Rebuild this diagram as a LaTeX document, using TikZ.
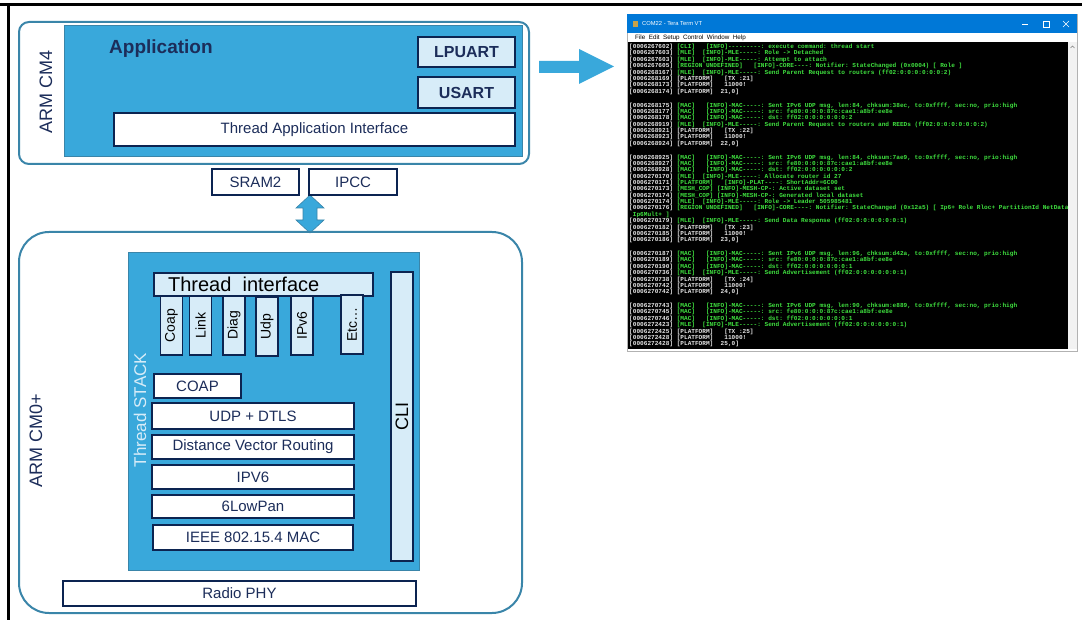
\documentclass[tikz,border=0pt]{standalone}
\usepackage{fontspec}
\setmainfont{Liberation Sans}
\setmonofont{Liberation Mono}
\definecolor{stblue}{HTML}{39A8DB}
\definecolor{stlight}{HTML}{D7ECF8}
\definecolor{stnavy}{HTML}{0C2451}
\definecolor{stteal}{HTML}{3A85A9}
\definecolor{stink}{HTML}{1C2D5A}
\definecolor{termbar}{HTML}{0078D7}
\definecolor{termgreen}{HTML}{3FE03F}
\definecolor{termwhite}{HTML}{E4E4E4}
\definecolor{termicon}{HTML}{C9A24A}
\newcommand\tw[1]{\textcolor{termwhite}{#1}}
\newcommand\tg[1]{\textcolor{termgreen}{#1}}
\begin{document}
\begin{tikzpicture}[
  x=1pt, y=-1pt,
  every node/.style={inner sep=0pt, text=stink, font=\fontsize{15}{18}\selectfont},
  corebox/.style={draw=stteal, line width=2pt, rounded corners=#1},
  bluearea/.style={draw=stteal, line width=1pt, fill=stblue},
  whitebox/.style={draw=stnavy, line width=2.2pt, fill=white},
  lightbox/.style={draw=stnavy, line width=2.2pt, fill=stlight},
  layer/.style={whitebox, minimum width=202, minimum height=24},
  apibox/.style={draw=stnavy, line width=1.5pt, fill=stlight, rotate=90, minimum width=59, minimum height=22, text=black, font=\fontsize{14}{16}\selectfont},
  sidelabel/.style={rotate=90, font=\fontsize{18}{20}\selectfont},
  blockarrow/.style={fill=stblue, draw=stteal, line width=0.6pt},
  term/.style={align=left, anchor=north west, font=\fontsize{6.1}{6.37}\selectfont\ttfamily\bfseries}
]
  \useasboundingbox (0,0) rectangle (1082,620);
  \draw[line width=3] (0,5) -- (1082,5);
  \draw[line width=3] (8,5) -- (8,620);

  \node[corebox=10, minimum width=510, minimum height=142] (cm4) at (274,93) {};
  \node[sidelabel] (cm4lbl) at (46,92) {ARM CM4};
  \node[bluearea, minimum width=458, minimum height=131] (app) at (293,91.5) {};
  \node[anchor=west, font=\fontsize{19}{22}\selectfont\bfseries] (applbl) at (109,49) {Application};
  \node[lightbox, minimum width=97, minimum height=30, font=\fontsize{16}{18}\selectfont\bfseries] (lpuart) at (466.5,52) {LPUART};
  \node[lightbox, minimum width=97, minimum height=31, font=\fontsize{16}{18}\selectfont\bfseries] (usart) at (466.5,92.5) {USART};
  \node[whitebox, minimum width=401, minimum height=33] (tai) at (314.5,129.5) {Thread Application Interface};

  \draw[blockarrow] (310,195) -- (324,208) -- (317,208) -- (317,220) -- (324,220) -- (310,233)
    -- (296,220) -- (303,220) -- (303,208) -- (296,208) -- cycle;
  \node[whitebox, minimum width=87, minimum height=26] (sram) at (255.5,182) {SRAM2};
  \node[whitebox, minimum width=88, minimum height=26] (ipcc) at (353,182) {IPCC};

  \node[corebox=30, minimum width=503, minimum height=381] (cm0) at (270.5,422.5) {};
  \node[sidelabel] (cm0lbl) at (36,441) {ARM CM0+};
  \node[bluearea, minimum width=291, minimum height=317] (stack) at (273.5,411.5) {};
  \node[sidelabel, text=stlight, font=\fontsize{17}{20}\selectfont] (stacklbl) at (140,410) {Thread STACK};
  \node[lightbox, minimum width=219, minimum height=23] (tif) at (263.5,284.5) {};
  \node[anchor=west, text=black, font=\fontsize{20}{22}\selectfont] (tiflbl) at ([xshift=15]tif.west) {Thread\ \ interface};
  \node[apibox] (coap) at (171.5,325.5) {Coap};
  \node[apibox] (link) at (200.5,325.5) {Link};
  \node[apibox] (diag) at (234,325.5) {Diag};
  \node[apibox] (udp) at (267,326.5) {Udp};
  \node[apibox] (ipv) at (302,325.5) {IPv6};
  \node[apibox] (etc) at (352,324.5) {Etc\dots};
  \node[apibox, minimum width=289, font=\fontsize{18}{20}\selectfont] (cli) at (402,416.5) {CLI};
  \node[whitebox, minimum width=87, minimum height=24] (coapl) at (197.5,386) {COAP};
  \node[layer, minimum height=26] (udpl) at (253,416) {UDP + DTLS};
  \node[layer] (dvr) at (253,447) {Distance Vector Routing};
  \node[layer] (ipvl) at (253,477) {IPV6};
  \node[layer, minimum height=23] (lowpan) at (253,506.5) {6LowPan};
  \node[layer, minimum width=200, minimum height=25] (mac) at (253,537.5) {IEEE 802.15.4 MAC};
  \node[whitebox, minimum width=353, minimum height=25] (phy) at (239.5,593.5) {Radio PHY};

  \draw[blockarrow, draw=none] (539,61) -- (579,61) -- (579,49) -- (614,66.5) -- (579,84) -- (579,73) -- (539,73) -- cycle;

  \draw[gray!60, fill=white] (627,14) rectangle (1077,351);
  \fill[termbar] (627,14) rectangle (1077,33);
  \fill[termicon] (633,21) rectangle (638,27);
  \node[anchor=west, text=white, font=\fontsize{5.8}{7}\selectfont] (termtitle) at (642,24) {COM22 - Tera Term VT};
  \draw[white, line width=0.6] (1022,24) -- (1028,24);
  \draw[white, line width=0.6] (1043,21) rectangle (1049,27);
  \draw[white, line width=0.6] (1063,21) -- (1069,27) (1063,27) -- (1069,21);
  \node[anchor=west, text=black, font=\fontsize{6.3}{7}\selectfont] (menu) at (635,38) {File\ \ Edit\ \ Setup\ \ Control\ \ Window\ \ Help};
  \fill[black] (628,42) rectangle (1068,349);
  \fill[gray!10] (1068,42) rectangle (1077,349);
  \draw[gray, line width=0.5] (1070.5,48) -- (1072.5,46) -- (1074.5,48);
  \begin{scope}
    \clip (628,42) rectangle (1068,349);
    \node[term] (log) at (629,44) {%
\tw{[0006267602]} \tg{[CLI] \ \ [INFO]---------: execute command: thread start}\\
\tw{[0006267603]} \tg{[MLE] \ [INFO]-MLE-----: Role -> Detached}\\
\tw{[0006267603]} \tg{[MLE] \ [INFO]-MLE-----: Attempt to attach}\\
\tw{[0006267605]} \tg{[REGION UNDEFINED] \ \ [INFO]-CORE----: Notifier: StateChanged (0x0004) [ Role ]}\\
\tw{[0006268167]} \tg{[MLE] \ [INFO]-MLE-----: Send Parent Request to routers (ff02:0:0:0:0:0:0:2)}\\
\tw{[0006268169] [PLATFORM] \ \ [TX :21]}\\
\tw{[0006268173] [PLATFORM] \ \ 11000!}\\
\tw{[0006268174] [PLATFORM] \ 21,0]}\\
\strut\\
\tw{[0006268175]} \tg{[MAC] \ \ [INFO]-MAC-----: Sent IPv6 UDP msg, len:84, chksum:38ec, to:0xffff, sec:no, prio:high}\\
\tw{[0006268177]} \tg{[MAC] \ \ [INFO]-MAC-----: src: fe80:0:0:0:87c:cae1:a8bf:ee8e}\\
\tw{[0006268178]} \tg{[MAC] \ \ [INFO]-MAC-----: dst: ff02:0:0:0:0:0:0:2}\\
\tw{[0006268919]} \tg{[MLE] \ [INFO]-MLE-----: Send Parent Request to routers and REEDs (ff02:0:0:0:0:0:0:2)}\\
\tw{[0006268921] [PLATFORM] \ \ [TX :22]}\\
\tw{[0006268923] [PLATFORM] \ \ 11000!}\\
\tw{[0006268924] [PLATFORM] \ 22,0]}\\
\strut\\
\tw{[0006268925]} \tg{[MAC] \ \ [INFO]-MAC-----: Sent IPv6 UDP msg, len:84, chksum:7ae9, to:0xffff, sec:no, prio:high}\\
\tw{[0006268927]} \tg{[MAC] \ \ [INFO]-MAC-----: src: fe80:0:0:0:87c:cae1:a8bf:ee8e}\\
\tw{[0006268928]} \tg{[MAC] \ \ [INFO]-MAC-----: dst: ff02:0:0:0:0:0:0:2}\\
\tw{[0006270170]} \tg{[MLE] \ [INFO]-MLE-----: Allocate router id 27}\\
\tw{[0006270171]} \tg{[PLATFORM] \ \ [INFO]-PLAT----: ShortAddr=6C00}\\
\tw{[0006270173]} \tg{[MESH\_COP] [INFO]-MESH-CP-: Active dataset set}\\
\tw{[0006270174]} \tg{[MESH\_COP] [INFO]-MESH-CP-: Generated local dataset}\\
\tw{[0006270174]} \tg{[MLE] \ [INFO]-MLE-----: Role -> Leader 505985481}\\
\tw{[0006270176]} \tg{[REGION UNDEFINED] \ \ [INFO]-CORE----: Notifier: StateChanged (0x12a5) [ Ip6+ Role Rloc+ PartitionId NetData}\\
\tg{\hphantom{I}Ip6Mult+ ]}\\
\tw{[0006270179]} \tg{[MLE] \ [INFO]-MLE-----: Send Data Response (ff02:0:0:0:0:0:0:1)}\\
\tw{[0006270182] [PLATFORM] \ \ [TX :23]}\\
\tw{[0006270185] [PLATFORM] \ \ 11000!}\\
\tw{[0006270186] [PLATFORM] \ 23,0]}\\
\strut\\
\tw{[0006270187]} \tg{[MAC] \ \ [INFO]-MAC-----: Sent IPv6 UDP msg, len:96, chksum:d42a, to:0xffff, sec:no, prio:high}\\
\tw{[0006270189]} \tg{[MAC] \ \ [INFO]-MAC-----: src: fe80:0:0:0:87c:cae1:a8bf:ee8e}\\
\tw{[0006270190]} \tg{[MAC] \ \ [INFO]-MAC-----: dst: ff02:0:0:0:0:0:0:1}\\
\tw{[0006270736]} \tg{[MLE] \ [INFO]-MLE-----: Send Advertisement (ff02:0:0:0:0:0:0:1)}\\
\tw{[0006270738] [PLATFORM] \ \ [TX :24]}\\
\tw{[0006270742] [PLATFORM] \ \ 11000!}\\
\tw{[0006270742] [PLATFORM] \ 24,0]}\\
\strut\\
\tw{[0006270743]} \tg{[MAC] \ \ [INFO]-MAC-----: Sent IPv6 UDP msg, len:90, chksum:e889, to:0xffff, sec:no, prio:high}\\
\tw{[0006270745]} \tg{[MAC] \ \ [INFO]-MAC-----: src: fe80:0:0:0:87c:cae1:a8bf:ee8e}\\
\tw{[0006270746]} \tg{[MAC] \ \ [INFO]-MAC-----: dst: ff02:0:0:0:0:0:0:1}\\
\tw{[0006272423]} \tg{[MLE] \ [INFO]-MLE-----: Send Advertisement (ff02:0:0:0:0:0:0:1)}\\
\tw{[0006272425] [PLATFORM] \ \ [TX :25]}\\
\tw{[0006272428] [PLATFORM] \ \ 11000!}\\
\tw{[0006272428] [PLATFORM] \ 25,0]}};
  \end{scope}
\end{tikzpicture}
\end{document}
